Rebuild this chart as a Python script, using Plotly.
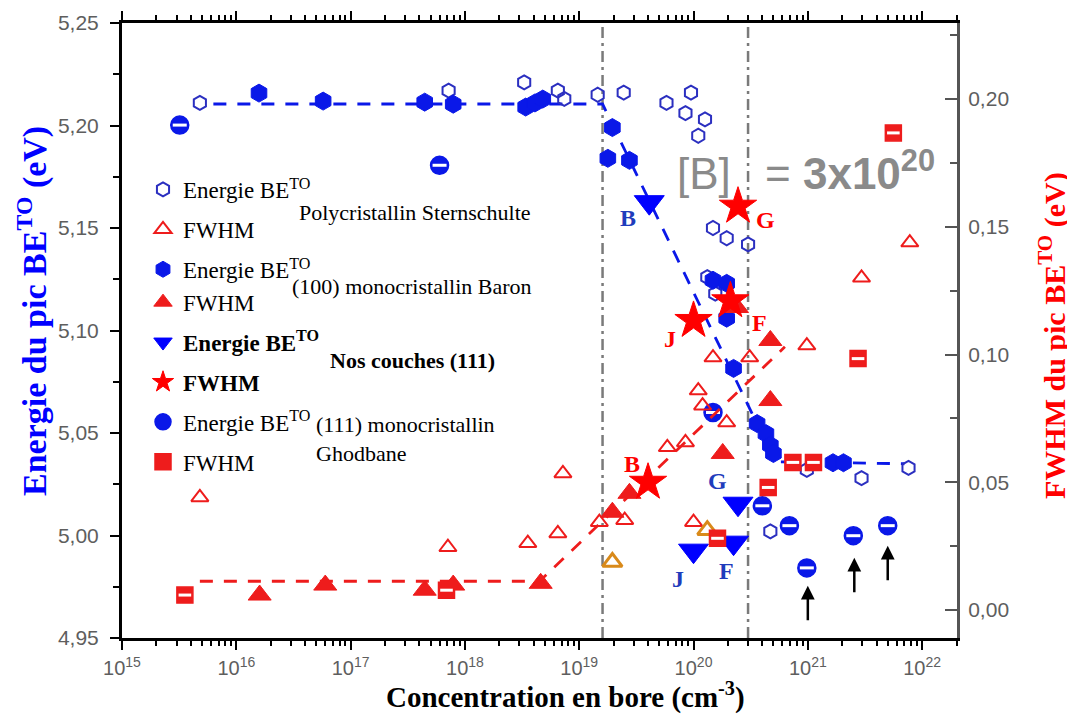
import numpy as np
import plotly.graph_objects as go

# ---------------- data ----------------
# Sternschulte (polycristallin) : Energie BE^TO (eV)
stern_E_x = [4.8e15, 7.2e17, 3.3e18, 6.5e18, 7.4e18, 1.45e19, 2.45e19, 5.8e19, 9.5e19, 8.5e19,
             1.26e20, 1.1e20, 1.48e20, 1.95e20, 3.0e20, 1.32e20, 1.55e20, 4.7e20, 9.8e20, 2.95e21, 7.6e21]
stern_E_y = [5.211, 5.217, 5.221, 5.217, 5.213, 5.215, 5.216, 5.211, 5.216, 5.206,
             5.203, 5.195, 5.150, 5.145, 5.142, 5.126, 5.118, 5.002, 5.032, 5.028, 5.033]
# Sternschulte : FWHM (eV)
stern_F_x = [4.8e15, 7.1e17, 3.55e18, 6.5e18, 7.2e18, 1.5e19, 2.5e19, 5.9e19, 8.5e19, 1.0e20,
             1.1e20, 1.2e20, 1.48e20, 3.1e20, 1.95e20, 9.8e20, 2.95e21, 7.8e21]
stern_F_y = [0.0441, 0.0246, 0.0262, 0.030, 0.0535, 0.0344, 0.0352, 0.0637, 0.0656, 0.0344,
             0.0859, 0.080, 0.0988, 0.0988, 0.0734, 0.1035, 0.130, 0.1438]
# points printed in orange in the source figure
orange_F_x = [1.95e19, 1.32e20]
orange_F_y = [0.0188, 0.0313]

# Baron (100) monocristallin
baron_E_x = [1.58e16, 5.75e16, 4.45e17, 7.9e17, 3.4e18, 4.1e18, 4.8e18, 1.95e19, 1.78e19, 2.75e19,
             1.48e20, 1.95e20, 1.95e20, 2.24e20, 3.6e20, 4.3e20, 4.7e20, 5.0e20, 1.66e21, 2.05e21]
baron_E_y = [5.2158, 5.2119, 5.2114, 5.2104, 5.209, 5.211, 5.2129, 5.199, 5.184, 5.183,
             5.1245, 5.123, 5.106, 5.0815, 5.0546, 5.0497, 5.044, 5.040, 5.0355, 5.0355]
baron_F_x = [1.6e16, 6.0e16, 4.45e17, 7.9e17, 4.6e18, 1.95e19, 2.75e19, 1.8e20, 4.7e20, 4.7e20, 2.4e20]
baron_F_y = [0.0059, 0.0098, 0.0078, 0.0098, 0.0105, 0.0383, 0.0457, 0.0613, 0.082, 0.1055, 0.1184]

# Nos couches (111)
nos_labels = ["B", "G", "J", "F"]
nos_E_x = [4.1e19, 2.45e20, 1.0e20, 2.24e20]
nos_E_y = [5.1626, 5.0155, 4.9926, 4.9965]
nos_F_x = [4.0e19, 2.45e20, 1.0e20, 2.1e20]
nos_F_y = [0.050, 0.158, 0.1133, 0.121]

# Ghodbane (111) monocristallin
ghod_E_x = [3.2e15, 6.0e17, 1.48e20, 4.0e20, 6.9e20, 9.8e20, 2.5e21, 5.0e21]
ghod_E_y = [5.2002, 5.1806, 5.060, 5.0145, 5.0048, 4.9842, 4.9999, 5.0048]
ghod_F_x = [3.55e15, 6.9e17, 1.62e20, 4.5e20, 7.4e20, 1.12e21, 2.75e21, 5.6e21]
ghod_F_y = [0.0059, 0.0078, 0.0281, 0.048, 0.0578, 0.0578, 0.0984, 0.1867]

# guide lines (dashed)
guideE_x = [6.3e15, 1.6e19, 5.2e20, 7.0e21]
guideE_y = [5.2105, 5.2105, 5.036, 5.035]
guideF_x = [4.8e15, 4.5e18, 6.3e20]
guideF_y = [0.0113, 0.0113, 0.103]

# concentration thresholds (dash-dot vertical lines)
thresholds = [1.6e19, 3.0e20]

# arrows pointing at Ghodbane points
arrow_x = [1.0e21, 2.55e21, 5.0e21]
arrow_y = [4.9755, 4.9891, 4.995]

x_ticks = [1e15, 1e16, 1e17, 1e18, 1e19, 1e20, 1e21, 1e22]
x_ticktext = ["10<sup>%d</sup>" % int(round(np.log10(v))) for v in x_ticks]

# ---------------- styles ----------------
BLUE_OPEN = "#2b2fc0"
BLUE = "#0a18e8"
BLUE_TRI = "#0000ff"
RED = "#ee1c1c"
RED_STAR = "#ff0000"
ORANGE = "#d98a1a"
LBL_BLUE = "#1f3cbc"
GRAY = "#5e5e5e"
SERIF = "Liberation Serif"
SANS = "Liberation Sans"

fig = go.Figure()

# vertical threshold lines
for t in thresholds:
    fig.add_trace(go.Scatter(x=[t, t], y=[4.95, 5.25], mode="lines", yaxis="y",
                             line=dict(color="#7a7a7a", width=2.5, dash="11px,5px,3px,5px"),
                             showlegend=False, hoverinfo="skip"))

# guide lines
fig.add_trace(go.Scatter(x=guideE_x, y=guideE_y, mode="lines", yaxis="y",
                         line=dict(color=BLUE, width=2.8, dash="13px,11px"),
                         showlegend=False, hoverinfo="skip"))
fig.add_trace(go.Scatter(x=guideF_x, y=guideF_y, mode="lines", yaxis="y2",
                         line=dict(color=RED, width=2.8, dash="13px,11px"),
                         showlegend=False, hoverinfo="skip"))

# Sternschulte
fig.add_trace(go.Scatter(x=stern_E_x, y=stern_E_y, mode="markers", yaxis="y",
                         name="Energie BE<sup>TO</sup>", legendgroup="g1",
                         marker=dict(symbol="hexagon-open", size=14, color=BLUE_OPEN,
                                     line=dict(width=2, color=BLUE_OPEN))))
fig.add_trace(go.Scatter(x=stern_F_x, y=stern_F_y, mode="markers", yaxis="y2",
                         name="FWHM", legendgroup="g2",
                         marker=dict(symbol="triangle-up-open", size=15, color=RED,
                                     line=dict(width=2, color=RED))))
fig.add_trace(go.Scatter(x=orange_F_x, y=orange_F_y, mode="markers", yaxis="y2",
                         showlegend=False, legendgroup="g2",
                         marker=dict(symbol="triangle-up-open", size=17, color=ORANGE,
                                     line=dict(width=3, color=ORANGE))))

# Baron
fig.add_trace(go.Scatter(x=baron_E_x, y=baron_E_y, mode="markers", yaxis="y",
                         name="Energie BE<sup>TO</sup>", legendgroup="g3",
                         marker=dict(symbol="hexagon", size=18, color=BLUE,
                                     line=dict(width=1, color=BLUE))))
fig.add_trace(go.Scatter(x=baron_F_x, y=baron_F_y, mode="markers", yaxis="y2",
                         name="FWHM", legendgroup="g3",
                         marker=dict(symbol="triangle-up", size=20, color=RED,
                                     line=dict(width=1, color=RED))))

# Nos couches
fig.add_trace(go.Scatter(x=nos_E_x, y=nos_E_y, mode="markers", yaxis="y",
                         name="<b>Energie BE<sup>TO</sup></b>", legendgroup="g5",
                         marker=dict(symbol="triangle-down", size=26, color=BLUE_TRI,
                                     line=dict(width=1, color=BLUE_TRI))))
fig.add_trace(go.Scatter(x=nos_F_x, y=nos_F_y, mode="markers", yaxis="y2",
                         name="<b>FWHM</b>", legendgroup="g6",
                         marker=dict(symbol="star", size=28, color=RED_STAR,
                                     line=dict(width=1, color=RED_STAR))))

# Ghodbane (half-filled look: filled marker + white stripe)
fig.add_trace(go.Scatter(x=ghod_E_x, y=ghod_E_y, mode="markers", yaxis="y",
                         name="Energie BE<sup>TO</sup>", legendgroup="g7",
                         marker=dict(symbol="circle", size=18, color=BLUE,
                                     line=dict(width=1.5, color=BLUE))))
fig.add_trace(go.Scatter(x=ghod_E_x, y=ghod_E_y, mode="markers", yaxis="y",
                         showlegend=False, legendgroup="g7", hoverinfo="skip",
                         marker=dict(symbol="line-ew", size=10, color="white",
                                     line=dict(width=3, color="white"))))
fig.add_trace(go.Scatter(x=ghod_F_x, y=ghod_F_y, mode="markers", yaxis="y2",
                         name="FWHM", legendgroup="g8",
                         marker=dict(symbol="square", size=16, color=RED,
                                     line=dict(width=1.5, color=RED))))
fig.add_trace(go.Scatter(x=ghod_F_x, y=ghod_F_y, mode="markers", yaxis="y2",
                         showlegend=False, legendgroup="g8", hoverinfo="skip",
                         marker=dict(symbol="line-ew", size=9, color="white",
                                     line=dict(width=3, color="white"))))

# ---------------- annotations ----------------
# target plot-area edges in window pixels (page body has an 8px margin)
OFF = 8
PL, PR, PT, PB = 122, 957, 23, 638
def px(xp):
    return (xp - PL) / (PR - PL)
def py(yp):
    return (PB - yp) / (PB - PT)

ann = []
# point letters (Nos couches)
letter_E = [(19.43, 5.1547), (20.21, 5.0267), (19.86, 4.9789), (20.29, 4.9828)]
letter_F = [(19.46, 5.035), (20.63, 5.1538), (19.79, 5.0961), (20.58, 5.1039)]
for lab, (lx, ly) in zip(nos_labels, letter_E):
    ann.append(dict(x=lx, y=ly, xref="x", yref="y", text="<b>%s</b>" % lab, showarrow=False,
                    font=dict(family=SERIF, size=24, color=LBL_BLUE)))
for lab, (lx, ly) in zip(nos_labels, letter_F):
    ann.append(dict(x=lx, y=ly, xref="x", yref="y", text="<b>%s</b>" % lab, showarrow=False,
                    font=dict(family=SERIF, size=24, color=RED_STAR)))
# [B] = 3x10^20
ann.append(dict(x=20.98, y=5.178, xref="x", yref="y", showarrow=False,
                text="[B]\u2002 = <b>3x10<sup>20</sup></b>",
                font=dict(family=SANS, size=44, color="#8a8a8a")))
# arrows
for axv, ayv in zip(arrow_x, arrow_y):
    ann.append(dict(x=float(np.log10(axv)), y=ayv, xref="x", yref="y", text="", showarrow=True,
                    arrowhead=2, arrowsize=1.1, arrowwidth=2.5, arrowcolor="black",
                    ax=0, ay=36))
# legend group labels
grp = dict(xref="paper", yref="paper", xanchor="left", yanchor="middle", showarrow=False,
           align="left")
ann.append(dict(grp, x=px(297), y=py(212), text="Polycristallin Sternschulte",
                font=dict(family=SERIF, size=22, color="black")))
ann.append(dict(grp, x=px(290), y=py(286), text="(100) monocristallin Baron",
                font=dict(family=SERIF, size=22, color="black")))
ann.append(dict(grp, x=px(328), y=py(360), text="<b>Nos couches (111)</b>",
                font=dict(family=SERIF, size=22, color="black")))
ann.append(dict(grp, x=px(314), y=py(439), text="(111) monocristallin<br>Ghodbane",
                font=dict(family=SERIF, size=22, color="black")))
# axis titles
ttl = dict(xref="paper", yref="paper", xanchor="center", yanchor="middle", showarrow=False)
ann.append(dict(ttl, x=px(32), y=py(311), textangle=-90,
                text="<b>Energie du pic BE<sup>TO</sup> (eV)</b>",
                font=dict(family=SERIF, size=34, color="#0000ff")))
ann.append(dict(ttl, x=px(1052), y=py(336), textangle=-90,
                text="<b>FWHM du pic BE<sup>TO</sup> (eV)</b>",
                font=dict(family=SERIF, size=30, color="#ff0000")))
ann.append(dict(ttl, x=px(565), y=py(695),
                text="<b>Concentration en bore (cm<sup>-3</sup>)</b>",
                font=dict(family=SERIF, size=29, color="black")))

minor_x = [float(k) * 10.0 ** d for d in range(15, 22) for k in range(2, 10)] + [2e22]

W, H = 1075, 717
fig.update_layout(
    width=W, height=H,
    margin=dict(l=PL - OFF, r=W + OFF - PR, t=PT - OFF, b=H + OFF - PB),
    paper_bgcolor="white", plot_bgcolor="white",
    separators=",.",
    font=dict(family=SANS, size=18, color=GRAY),
    annotations=ann,
    legend=dict(x=px(143), y=py(168), xanchor="left", yanchor="top",
                bgcolor="rgba(0,0,0,0)", tracegroupgap=7,
                font=dict(family=SERIF, size=23, color="black"),
                traceorder="grouped", itemsizing="trace"),
    xaxis=dict(type="log", range=[15, 22.305], showgrid=False, zeroline=False, automargin=False,
               tickmode="array", tickvals=x_ticks, ticktext=x_ticktext,
               ticks="outside", ticklen=9, tickwidth=2, tickcolor="black", ticklabelstandoff=1,
               showline=True, linecolor="black", linewidth=3, mirror="ticks",
               tickfont=dict(family=SANS, size=20, color=GRAY),
               minor=dict(tickvals=minor_x, ticks="outside", ticklen=5, tickwidth=1.5,
                          tickcolor="black", showgrid=False)),
    yaxis=dict(range=[4.95, 5.25], showgrid=False, zeroline=False, automargin=False,
               tickmode="linear", tick0=4.95, dtick=0.05, tickformat=".2f",
               ticks="outside", ticklen=9, tickwidth=2, tickcolor="black", ticklabelstandoff=7,
               showline=True, linecolor="black", linewidth=3,
               tickfont=dict(family=SANS, size=21, color=GRAY),
               minor=dict(dtick=0.025, tick0=4.95, ticks="outside", ticklen=6, tickwidth=1.5,
                          tickcolor="black", showgrid=False)),
    yaxis2=dict(range=[-0.0109, 0.2297], overlaying="y", side="right", showgrid=False,
                zeroline=False, automargin=False, tickmode="linear", tick0=0, dtick=0.05,
                tickformat=".2f", ticks="inside", ticklen=12, tickwidth=2, tickcolor="#555",
                ticklabelstandoff=4,
                showline=True, linecolor="#555", linewidth=3,
                tickfont=dict(family=SANS, size=21, color=GRAY),
                minor=dict(dtick=0.025, tick0=0, ticks="inside", ticklen=7, tickwidth=1.5,
                           tickcolor="#555", showgrid=False)),
)

fig.write_html("out.html")
